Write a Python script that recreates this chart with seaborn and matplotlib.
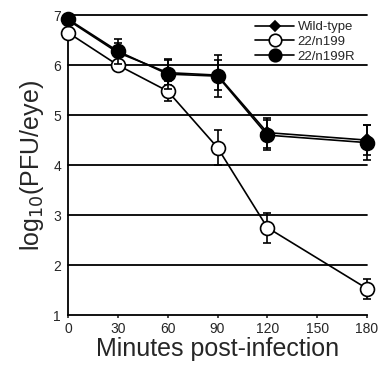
import numpy as np
import pandas as pd
import seaborn as sns
import matplotlib.pyplot as plt

minutes = [0, 30, 60, 90, 120, 180]
wild_type = [6.90, 6.25, 5.85, 5.80, 4.65, 4.50]
wild_type_err = [0.0, 0.2, 0.25, 0.3, 0.3, 0.3]
n199 = [6.65, 6.00, 5.48, 4.35, 2.75, 1.53]
n199_err = [0.0, 0.0, 0.2, 0.35, 0.3, 0.2]
n199r = [6.92, 6.28, 5.82, 5.78, 4.60, 4.45]
n199r_err = [0.0, 0.25, 0.3, 0.42, 0.3, 0.35]

series = ["Wild-type", "22/n199", "22/n199R"]

df = pd.DataFrame({
    "minutes": minutes * 3,
    "pfu": wild_type + n199 + n199r,
    "err": wild_type_err + n199_err + n199r_err,
    "strain": [s for s in series for _ in minutes],
})

sns.set_theme(style="white")
plt.rcParams["font.family"] = ["Liberation Sans", "DejaVu Sans"]

fig = plt.figure(figsize=(3.78, 3.69), dpi=100)
ax = fig.add_axes([0.18, 0.146, 0.791, 0.813])

# horizontal reference lines at each log unit
for y in range(2, 8):
    ax.axhline(y, color="black", lw=1.3, zorder=1, clip_on=False)

styles = {
    "Wild-type": dict(marker="D", ms=6, mfc="black", z=3),
    "22/n199": dict(marker="o", ms=10, mfc="white", z=4),
    "22/n199R": dict(marker="o", ms=10, mfc="black", z=5),
}

for name in series:
    sub = df[df["strain"] == name]
    st = styles[name]
    ax.errorbar(sub["minutes"], sub["pfu"], yerr=sub["err"], fmt="none",
                ecolor="black", elinewidth=1.2, capsize=3, capthick=1.2,
                zorder=st["z"], clip_on=False)
    sns.lineplot(data=sub, x="minutes", y="pfu", ax=ax, color="black",
                 lw=1.2, marker=st["marker"], markersize=st["ms"],
                 markerfacecolor=st["mfc"], markeredgecolor="black",
                 markeredgewidth=1.2, zorder=st["z"], clip_on=False,
                 label=name)

ax.set_xlim(0, 180)
ax.set_ylim(1, 7)
ax.set_xticks([0, 30, 60, 90, 120, 150, 180])
ax.set_yticks([1, 2, 3, 4, 5, 6, 7])
ax.tick_params(axis="both", labelsize=10, length=2, width=1.2,
               direction="out", bottom=True, left=False, pad=3)
for side in ["top", "right"]:
    ax.spines[side].set_visible(False)
for side in ["left", "bottom"]:
    ax.spines[side].set_color("black")
    ax.spines[side].set_linewidth(1.3)

ax.set_xlabel("Minutes post-infection", fontsize=18, labelpad=1)
ax.set_ylabel("log$_{10}$(PFU/eye)", fontsize=18, labelpad=5)

leg = ax.legend(loc="upper right", bbox_to_anchor=(0.985, 1.005), frameon=False,
                fontsize=9.5, handlelength=2.9, handletextpad=0.3,
                labelspacing=0.2, borderaxespad=0.15, markerscale=0.9)

fig.savefig("out.png", dpi=100)
